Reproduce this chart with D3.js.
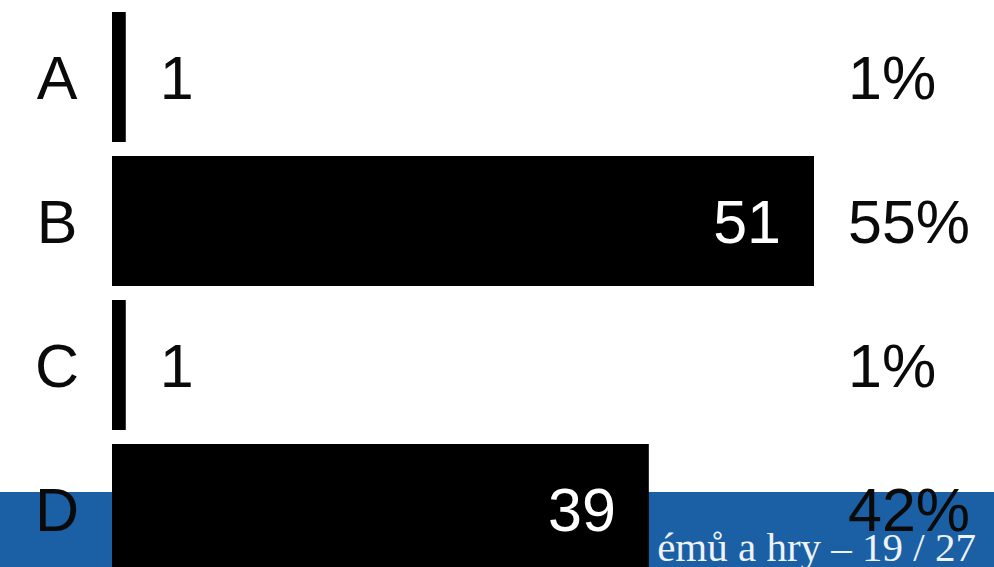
<!DOCTYPE html>
<html><head><meta charset="utf-8">
<script src="https://cdn.jsdelivr.net/npm/d3@7"></script>
<style>html,body{margin:0;padding:0;background:#fff;overflow:hidden}</style>
</head><body>
<svg id="c" width="994" height="567"></svg>
<script>
const categories = ["A", "B", "C", "D"];
const values = [1, 51, 1, 39];
const percentLabels = ["1%", "55%", "1%", "42%"];
const footerText = "émů a hry – 19 / 27";

const W = 994, H = 567;
const svg = d3.select("#c");

// footer band
svg.append("rect").attr("x", 0).attr("y", 492).attr("width", W).attr("height", H - 492).attr("fill", "#1b5fa4");
svg.append("text").attr("x", 976).attr("y", 561).attr("text-anchor", "end")
  .attr("font-family", "Liberation Serif, Times New Roman, serif").attr("font-size", 41)
  .attr("fill", "#eef3f8").text(footerText);

const x = d3.scaleLinear().domain([0, 51]).range([112, 814]);
const pi = 14 / 144;
const y = d3.scaleBand().domain(categories).range([5, 581]).paddingInner(pi).paddingOuter(pi / 2);

const data = categories.map((c, i) => ({c, v: values[i], p: percentLabels[i]}));
const font = "Liberation Sans, Arial, sans-serif";
const fs = 61;

svg.selectAll("rect.bar").data(data).join("rect").attr("class", "bar")
  .attr("x", x(0)).attr("y", d => y(d.c)).attr("width", d => x(d.v) - x(0)).attr("height", y.bandwidth())
  .attr("fill", "#000");

const base = d => y(d.c) + y.bandwidth() / 2 + 22;

svg.selectAll("text.cat").data(data).join("text").attr("class", "cat")
  .attr("x", 57).attr("y", base).attr("text-anchor", "middle")
  .attr("font-family", font).attr("font-size", fs).attr("fill", "#0a0a0a").text(d => d.c);

svg.selectAll("text.val").data(data).join("text").attr("class", "val")
  .attr("x", d => (x(d.v) - x(0) > 150) ? x(d.v) - 33 : x(d.v) + 34)
  .attr("y", base)
  .attr("text-anchor", d => (x(d.v) - x(0) > 150) ? "end" : "start")
  .attr("font-family", font).attr("font-size", fs)
  .attr("fill", d => (x(d.v) - x(0) > 150) ? "#fff" : "#0a0a0a").text(d => d.v);

svg.selectAll("text.pct").data(data).join("text").attr("class", "pct")
  .attr("x", 848).attr("y", base).attr("text-anchor", "start")
  .attr("font-family", font).attr("font-size", fs).attr("fill", "#0a0a0a").text(d => d.p);
</script>
</body></html>
